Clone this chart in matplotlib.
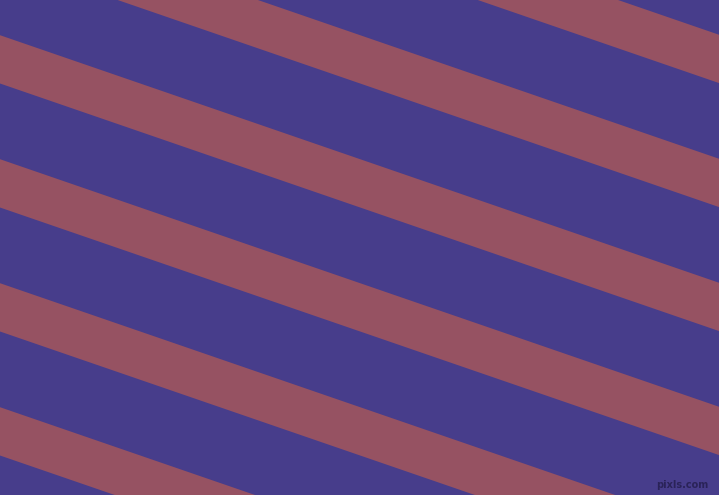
import matplotlib
matplotlib.use("Agg")
import matplotlib.pyplot as plt
import numpy as np

# Diagonal stripe pattern data (pixel units)
stripe_starts = [-212.8, -88.8, 35.2, 159.2, 283.2, 407.2]   # y of upper stripe edge at x=0
stripe_height = 48.3                                         # vertical thickness of stripe
stripe_slope = 0.3443                                        # dy/dx (down-right)
width_px, height_px = 719, 495

bg_color = "#473D8B"
stripe_color = "#965262"

fig = plt.figure(figsize=(width_px / 100, height_px / 100), dpi=100)
ax = fig.add_axes([0, 0, 1, 1])
ax.set_facecolor(bg_color)
fig.patch.set_facecolor(bg_color)

xs = np.array([0, width_px])
for y0 in stripe_starts:
    top = y0 + stripe_slope * xs
    bot = top + stripe_height
    ax.fill_between(xs, top, bot, color=stripe_color, linewidth=0, antialiased=True)

ax.set_xlim(0, width_px)
ax.set_ylim(height_px, 0)
ax.axis("off")

ax.text(708, 490, "pixls.com", ha="right", va="bottom", fontsize=7,
        fontweight="bold", color="#2A2358", family="DejaVu Sans")

fig.savefig("out.png", dpi=100, facecolor=bg_color)
